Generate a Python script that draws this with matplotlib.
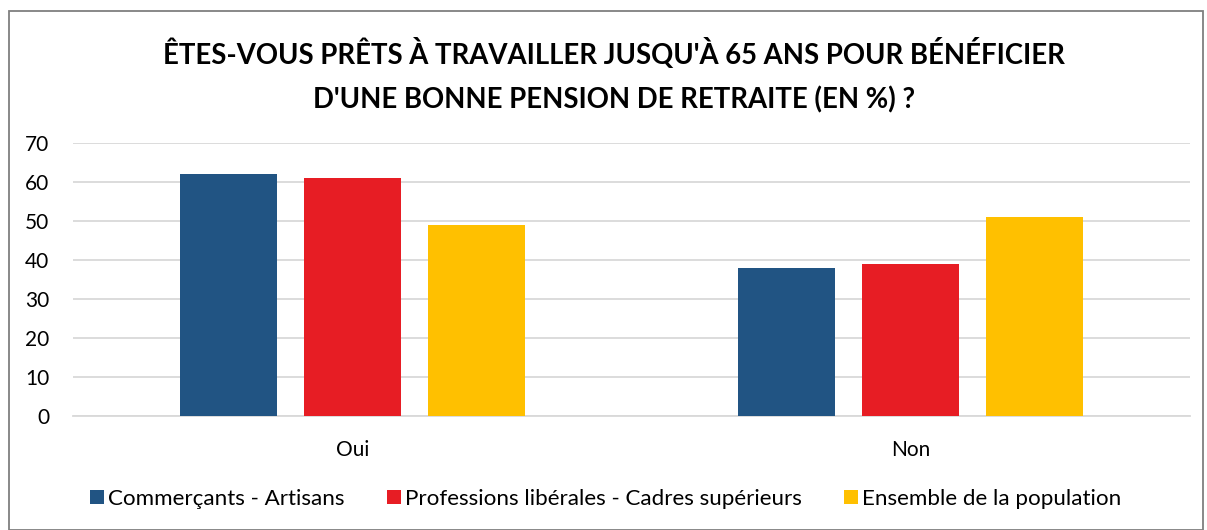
import matplotlib
matplotlib.use("Agg")
import matplotlib.pyplot as plt
from matplotlib.patches import Rectangle
import numpy as np

categories = ["Oui", "Non"]
series_names = ["Commerçants - Artisans", "Professions libérales - Cadres supérieurs", "Ensemble de la population"]
commercants = [62, 38]
professions = [61, 39]
ensemble = [49, 51]
colors = ["#215483", "#E71D24", "#FFC000"]
title = "ÊTES-VOUS PRÊTS À TRAVAILLER JUSQU'À 65 ANS POUR BÉNÉFICIER\nD'UNE BONNE PENSION DE RETRAITE (EN %) ?"

plt.rcParams['font.family'] = ['Lato', 'DejaVu Sans']

W, H = 1207, 530
fig = plt.figure(figsize=(W/100, H/100), dpi=100)
ax = fig.add_axes([73/W, 1-416/H, (1190-73)/W, (416-143)/H])

x = np.arange(len(categories))
width = 0.174
step = 0.222
for i, (vals, name, c) in enumerate(zip([commercants, professions, ensemble], series_names, colors)):
    ax.bar(x + (i-1)*step, vals, width, color=c, label=name, zorder=3)

ax.set_xlim(-0.5, 1.5)
ax.set_ylim(0, 70)
ax.set_yticks(range(0, 71, 10))
ax.yaxis.grid(True, color="#D9D9D9", linewidth=1.3, zorder=0)
ax.set_xticks(x)
ax.set_xticklabels(categories)
for s in ["top", "right", "left"]:
    ax.spines[s].set_visible(False)
ax.spines["bottom"].set_color("#D9D9D9")
ax.spines["bottom"].set_linewidth(1.3)
ax.tick_params(axis="both", length=0, colors="#000000")
ax.tick_params(axis="y", pad=17, labelsize=15)
ax.tick_params(axis="x", pad=17, labelsize=15)

fig.text(614/W, 1-76/H, title, ha="center", va="center", fontsize=19.8, fontweight="bold", linespacing=1.8)

leg = fig.legend(loc="center", bbox_to_anchor=(606/W, 1-499/H), ncol=3, frameon=False,
                 fontsize=16.1, handlelength=0.6, handleheight=0.6, handletextpad=0.2,
                 columnspacing=1.9)

fig.patches.append(Rectangle((9/W, 0), (1203-9)/W, 1-11/H, transform=fig.transFigure,
                             fill=False, edgecolor="#7F7F7F", linewidth=1.3))

fig.savefig("out.png", dpi=100)
